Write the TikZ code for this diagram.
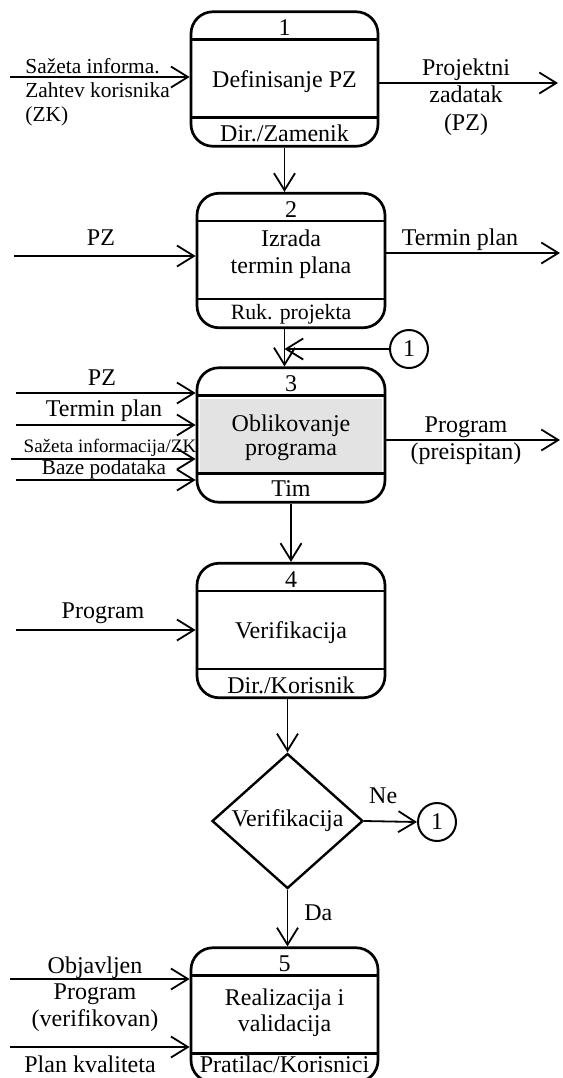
\documentclass[tikz,border=0pt]{standalone}
\usepackage{fontspec}
\setmainfont{Liberation Serif}
\usetikzlibrary{arrows.meta,shapes.geometric,backgrounds}

\begin{document}
\begin{tikzpicture}
    [   x=0.5pt,y=-0.5pt,
        every node/.style={inner sep=0pt,font=\fontsize{12}{13.5}\selectfont},
        pbox/.style={draw,line width=1.35pt,rounded corners=11pt,minimum width=94pt,minimum height=67.25pt},
        title/.style={align=center,font=\fontsize{12}{#1}\selectfont},
        title/.default=12,
        arr/.style={line width=0.9pt,-{Straight Barb[length=8.5pt,width=10.5pt]}},
        conn/.style={draw,circle,line width=1pt,minimum size=19pt},
        dec/.style={draw,diamond,line width=1.2pt,minimum width=75.5pt,minimum height=67.5pt},
        sep/.style={line width=1.15pt},
        flow/.style={align=center},
    ]
    \useasboundingbox (0,0) rectangle (563,1078);

    % process boxes
    \node[pbox,minimum width=93.5pt] (b1) at (284.5,79) {};
    \node[pbox] (b2) at (291,260.5) {};
    \node[pbox] (b3) at (291,435) {};
    \node[pbox] (b4) at (291,630.5) {};
    \node[pbox,minimum width=93.5pt] (b5) at (284.5,1015) {};
    \begin{scope}[on background layer]
        \fill[black!11] ([shift={(2pt,-16.25pt)}]b3.north west) rectangle ([shift={(-2pt,16pt)}]b3.south east);
    \end{scope}
    \foreach \b/\n/\r/\s/\h in {b1/1/{Dir./Zamenik}/12/7, b2/2/{Ruk. projekta}/10.9/7.5, b3/3/Tim/12/7.5,
                                b4/4/{Dir./Korisnik}/12/7, b5/5/{Pratilac/Korisnici}/12/9.5}
    {   \draw[sep] ([yshift=-14.5pt]\b.north west) -- ([yshift=-14.5pt]\b.north east);
        \draw[sep] ([yshift=15pt]\b.south west) -- ([yshift=15pt]\b.south east);
        \node (\b-nr) at ([yshift=-8.75pt]\b.north) {\n};
        \node[font=\fontsize{\s}{\s}\selectfont] (\b-who) at ([yshift=\h pt]\b.south) {\r};
    }
    \node[title] (b1-t) at ([yshift=-1.2pt]b1.center) {Definisanje PZ};
    \node[title=13.5] (b2-t) at ([yshift=3pt]b2.center) {Izrada\\termin plana};
    \node[title=12] (b3-t) at ([yshift=-1.5pt]b3.center) {Oblikovanje\\programa};
    \node[title] (b4-t) at ([yshift=-1pt]b4.center) {Verifikacija};
    \node[title=13] (b5-t) at ([yshift=1pt]b5.center) {Realizacija i\\validacija};

    % decision and connectors
    \node[dec] (d) at (287.5,821) {Verifikacija};
    \node[conn] (c1) at (409,349) {1};
    \node[conn] (c2) at (437,822) {1};

    \draw[arr] (b1.south) -- (b1.south |- b2.north);
    \draw[arr] (b2.south -| b1.south) -- (b3.north -| b1.south);
    \draw[arr] (c1.west) -- (c1 -| b1.south);
    \draw[arr] (b3.south) -- (b4.north);
    \draw[arr] (b4.south -| d.north) -- (d.north);
    \draw[arr] (d.east) -- node[pos=0.36,above=8.5pt] (ne) {Ne} (c2.west);
    \draw[arr] (d.south) -- node[pos=0.4,right=8pt] (da) {Da} (d.south |- b5.north);

    % inputs and outputs
    \coordinate (in1) at (10,77);
    \coordinate (out1) at (558,83);
    \draw[arr] (in1) -- (in1 -| b1.west);
    \draw[arr] (out1 -| b1.east) -- (out1);
    \node[anchor=west,align=left,font=\fontsize{10.7}{12}\selectfont] (l-in1) at (25,92) {Sažeta informa.\\Zahtev korisnika\\(ZK)};
    \node[flow,font=\fontsize{12}{13.75}\selectfont] (l-out1) at (466,97) {Projektni\\zadatak\\(PZ)};

    \coordinate (in2) at (14,256);
    \coordinate (out2) at (560,253);
    \draw[arr] (in2) -- (in2 -| b2.west);
    \draw[arr] (out2 -| b2.east) -- (out2);
    \node (l-in2) at (101,238) {PZ};
    \node (l-out2) at (460,240) {Termin plan};

    \coordinate (in3a) at (16,393);
    \coordinate (in3b) at (16,425);
    \coordinate (in3c) at (11,459);
    \coordinate (in3d) at (16,480);
    \coordinate (out3) at (560,440);
    \foreach \i in {a,b,c,d}
    {   \draw[arr] (in3\i) -- (in3\i -| b3.west);
    }
    \draw[arr] (out3 -| b3.east) -- (out3);
    \node (l-in3a) at (102,378) {PZ};
    \node (l-in3b) at (104,411) {Termin plan};
    \node[font=\fontsize{9.5}{9.5}\selectfont] (l-in3c) at (110,448) {Sažeta informacija/ZK};
    \node[font=\fontsize{10.6}{10.6}\selectfont] (l-in3d) at (104,469) {Baze podataka};
    \node[flow,font=\fontsize{12}{13.5}\selectfont] (l-out3) at (466,441) {Program\\(preispitan)};

    \coordinate (in4) at (16,630);
    \draw[arr] (in4) -- (in4 -| b4.west);
    \node (l-in4) at (103,613) {Program};

    \coordinate (in5a) at (10,979);
    \coordinate (in5b) at (10,1047);
    \draw[arr] (in5a) -- (in5a -| b5.west);
    \draw[arr] (in5b) -- (in5b -| b5.west);
    \node[flow,font=\fontsize{12}{13.25}\selectfont] (l-in5a) at (95,994) {Objavljen\\Program\\(verifikovan)};
    \node (l-in5b) at (90,1064) {Plan kvaliteta};
\end{tikzpicture}
\end{document}
